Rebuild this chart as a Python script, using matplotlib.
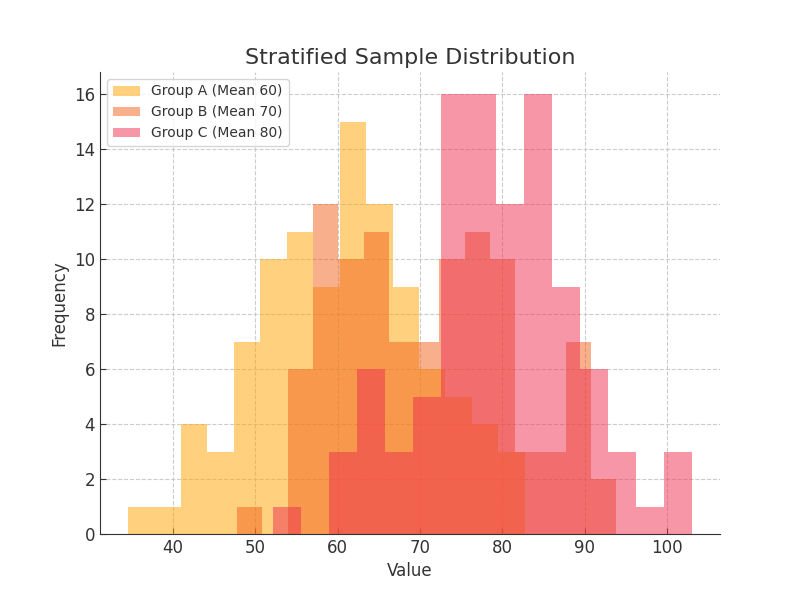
import numpy as np
import matplotlib
matplotlib.use("Agg")
import matplotlib.pyplot as plt

# ---- data ----
labels = ["Group A (Mean 60)", "Group B (Mean 70)", "Group C (Mean 80)"]
colors = ["#FFA500", "#F1611A", "#EF2F51"]

a_range = (34.53, 82.71)
b_range = (47.78, 93.83)
c_range = (52.15, 103.02)

a_counts = [1, 1, 4, 3, 7, 10, 11, 9, 15, 12, 9, 6, 5, 4, 3]
b_counts = [1, 0, 6, 12, 10, 11, 7, 7, 10, 11, 10, 3, 3, 7, 2]
c_counts = [1, 0, 3, 6, 3, 5, 16, 16, 12, 16, 9, 6, 3, 1, 3]

title = "Stratified Sample Distribution"
xlabel = "Value"
ylabel = "Frequency"

text_color = "#333333"
plt.rcParams.update({
    "font.family": ["DejaVu Sans"],
    "text.color": text_color,
    "axes.labelcolor": text_color,
    "xtick.color": text_color,
    "ytick.color": text_color,
})

fig, ax = plt.subplots(figsize=(8, 6), dpi=100)

for rng, counts, col, lab in zip([a_range, b_range, c_range],
                                 [a_counts, b_counts, c_counts],
                                 colors, labels):
    edges = np.linspace(rng[0], rng[1], len(counts) + 1)
    centers = (edges[:-1] + edges[1:]) / 2
    ax.hist(centers, bins=edges, weights=counts, color=col, alpha=0.5, label=lab)

ax.set_title(title, fontsize=16, color=text_color)
ax.set_xlabel(xlabel, fontsize=12)
ax.set_ylabel(ylabel, fontsize=12)
ax.set_yticks(range(0, 17, 2))
ax.tick_params(axis="both", direction="in", labelsize=12, length=4)

ax.grid(True, linestyle="--", color="#cccccc", linewidth=0.8)
ax.set_axisbelow(True)
for s in ["top", "right"]:
    ax.spines[s].set_visible(False)
for s in ["left", "bottom"]:
    ax.spines[s].set_color(text_color)

ax.legend(loc="upper left", fontsize=10, frameon=True, edgecolor="#cccccc")

fig.savefig("out.png", dpi=100)
